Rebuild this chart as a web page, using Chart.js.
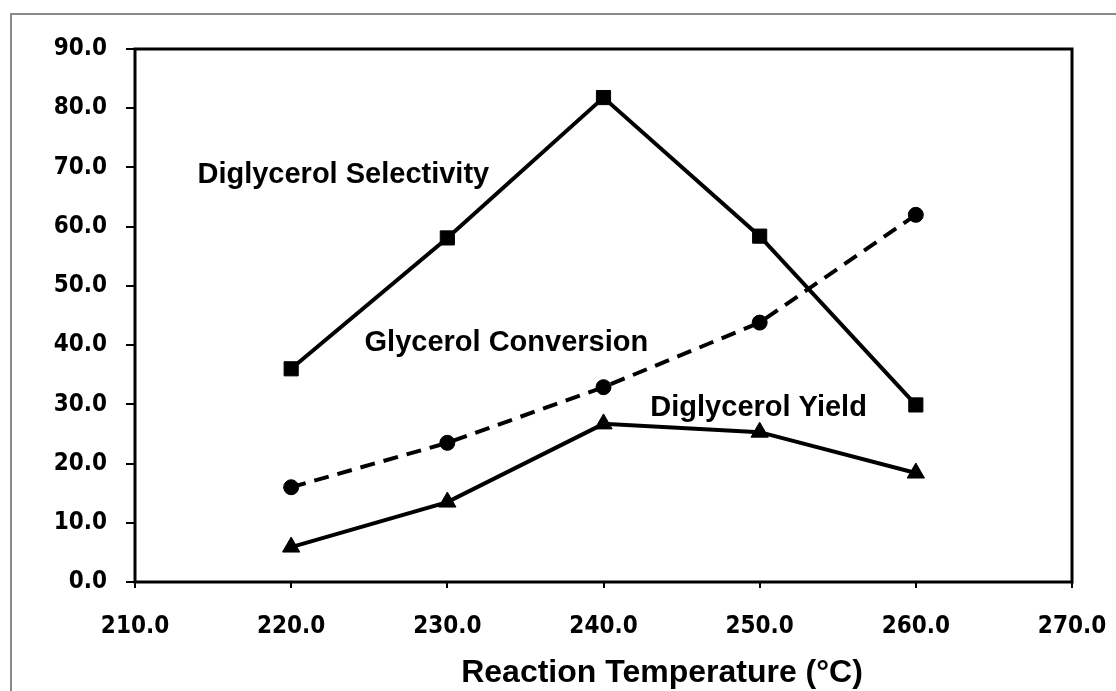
<!DOCTYPE html>
<html>
<head>
<meta charset="utf-8">
<script src="https://cdn.jsdelivr.net/npm/chart.js@4/dist/chart.umd.min.js"></script>
<style>
  body { margin: 0; background: #fff; }
  canvas { display: block; }
</style>
</head>
<body>
<canvas id="chart" width="1116" height="691"></canvas>
<script>
// Reaction temperature (°C)
var temperatures = [220, 230, 240, 250, 260];

// Series values (%)
var selectivity = [36.0, 58.1, 81.8, 58.4, 29.9];
var conversion  = [16.0, 23.5, 32.9, 43.8, 62.0];
var yieldValues = [5.9, 13.5, 26.7, 25.3, 18.4];

// Axis settings
var xMin = 210, xMax = 270, xStep = 10;
var yMin = 0, yMax = 90, yStep = 10;
var xTitle = 'Reaction Temperature (°C)';

// In-plot labels: text and anchor in data units (left edge, middle)
var seriesLabels = ['Diglycerol Selectivity', 'Glycerol Conversion', 'Diglycerol Yield'];
var labelX = [214.0, 224.7, 243.0];
var labelY = [68.7, 40.3, 29.3];

function toPoints(values) {
    return temperatures.map((t, i) => ({ x: t, y: values[i] }));
}

// Frame, plot border, in-plot labels and axis title
const decorations = {
    id: 'decorations',
    beforeDraw(chart) {
        const ctx = chart.ctx;
        ctx.save();
        ctx.strokeStyle = '#8a8a8a';
        ctx.lineWidth = 2;
        ctx.beginPath();
        ctx.moveTo(11, 700);
        ctx.lineTo(11, 14);
        ctx.lineTo(1116, 14);
        ctx.stroke();
        ctx.restore();
    },
    afterDraw(chart) {
        const ctx = chart.ctx;
        const a = chart.chartArea;
        const xs = chart.scales.x, ys = chart.scales.y;
        ctx.save();
        ctx.strokeStyle = '#000';
        ctx.lineWidth = 3;
        ctx.strokeRect(a.left, a.top, a.right - a.left, a.bottom - a.top);

        ctx.fillStyle = '#000';
        ctx.font = 'bold 29px "Liberation Sans", Arial, sans-serif';
        ctx.textAlign = 'left';
        ctx.textBaseline = 'middle';
        seriesLabels.forEach((txt, i) => {
            ctx.fillText(txt, xs.getPixelForValue(labelX[i]), ys.getPixelForValue(labelY[i]));
        });

        ctx.font = 'bold 32px "Liberation Sans", Arial, sans-serif';
        ctx.textAlign = 'center';
        ctx.fillText(xTitle, 662, 673);
        ctx.restore();
    }
};

const tickFont = { family: '"DejaVu Sans Condensed", "DejaVu Sans", Verdana, sans-serif', size: 24, weight: 'bold' };

const chart = new Chart(document.getElementById('chart'), {
    type: 'line',
    data: {
        datasets: [{
            label: seriesLabels[0],
            data: toPoints(selectivity),
            borderColor: '#000',
            backgroundColor: '#000',
            borderWidth: 4,
            pointStyle: 'rect',
            pointRadius: 10,
            pointBorderWidth: 1
        }, {
            label: seriesLabels[1],
            data: toPoints(conversion),
            borderColor: '#000',
            backgroundColor: '#000',
            borderWidth: 4,
            borderDash: [15, 9],
            pointStyle: 'circle',
            pointRadius: 7.5,
            pointBorderWidth: 1
        }, {
            label: seriesLabels[2],
            data: toPoints(yieldValues),
            borderColor: '#000',
            backgroundColor: '#000',
            borderWidth: 4,
            pointStyle: 'triangle',
            pointRadius: 10,
            pointBorderWidth: 1
        }]
    },
    options: {
        responsive: false,
        animation: false,
        layout: { padding: { left: 0, top: 49, right: 44, bottom: 0 } },
        plugins: {
            legend: { display: false },
            tooltip: { enabled: false }
        },
        scales: {
            x: {
                type: 'linear',
                min: xMin,
                max: xMax,
                afterFit: s => { s.height = 109; s.paddingLeft = 0; s.paddingRight = 0; },
                ticks: {
                    stepSize: xStep,
                    color: '#000',
                    font: tickFont,
                    padding: 24,
                    maxRotation: 0,
                    callback: v => v.toFixed(1)
                },
                grid: { drawOnChartArea: false, tickLength: 6, color: '#000', lineWidth: 2 },
                border: { display: false }
            },
            y: {
                min: yMin,
                max: yMax,
                afterFit: s => { s.width = 135; s.paddingTop = 0; s.paddingBottom = 0; },
                ticks: {
                    stepSize: yStep,
                    color: '#000',
                    font: tickFont,
                    padding: 19,
                    callback: v => v.toFixed(1)
                },
                grid: { drawOnChartArea: false, tickLength: 9, color: '#000', lineWidth: 2 },
                border: { display: false }
            }
        }
    },
    plugins: [decorations]
});
</script>
</body>
</html>
